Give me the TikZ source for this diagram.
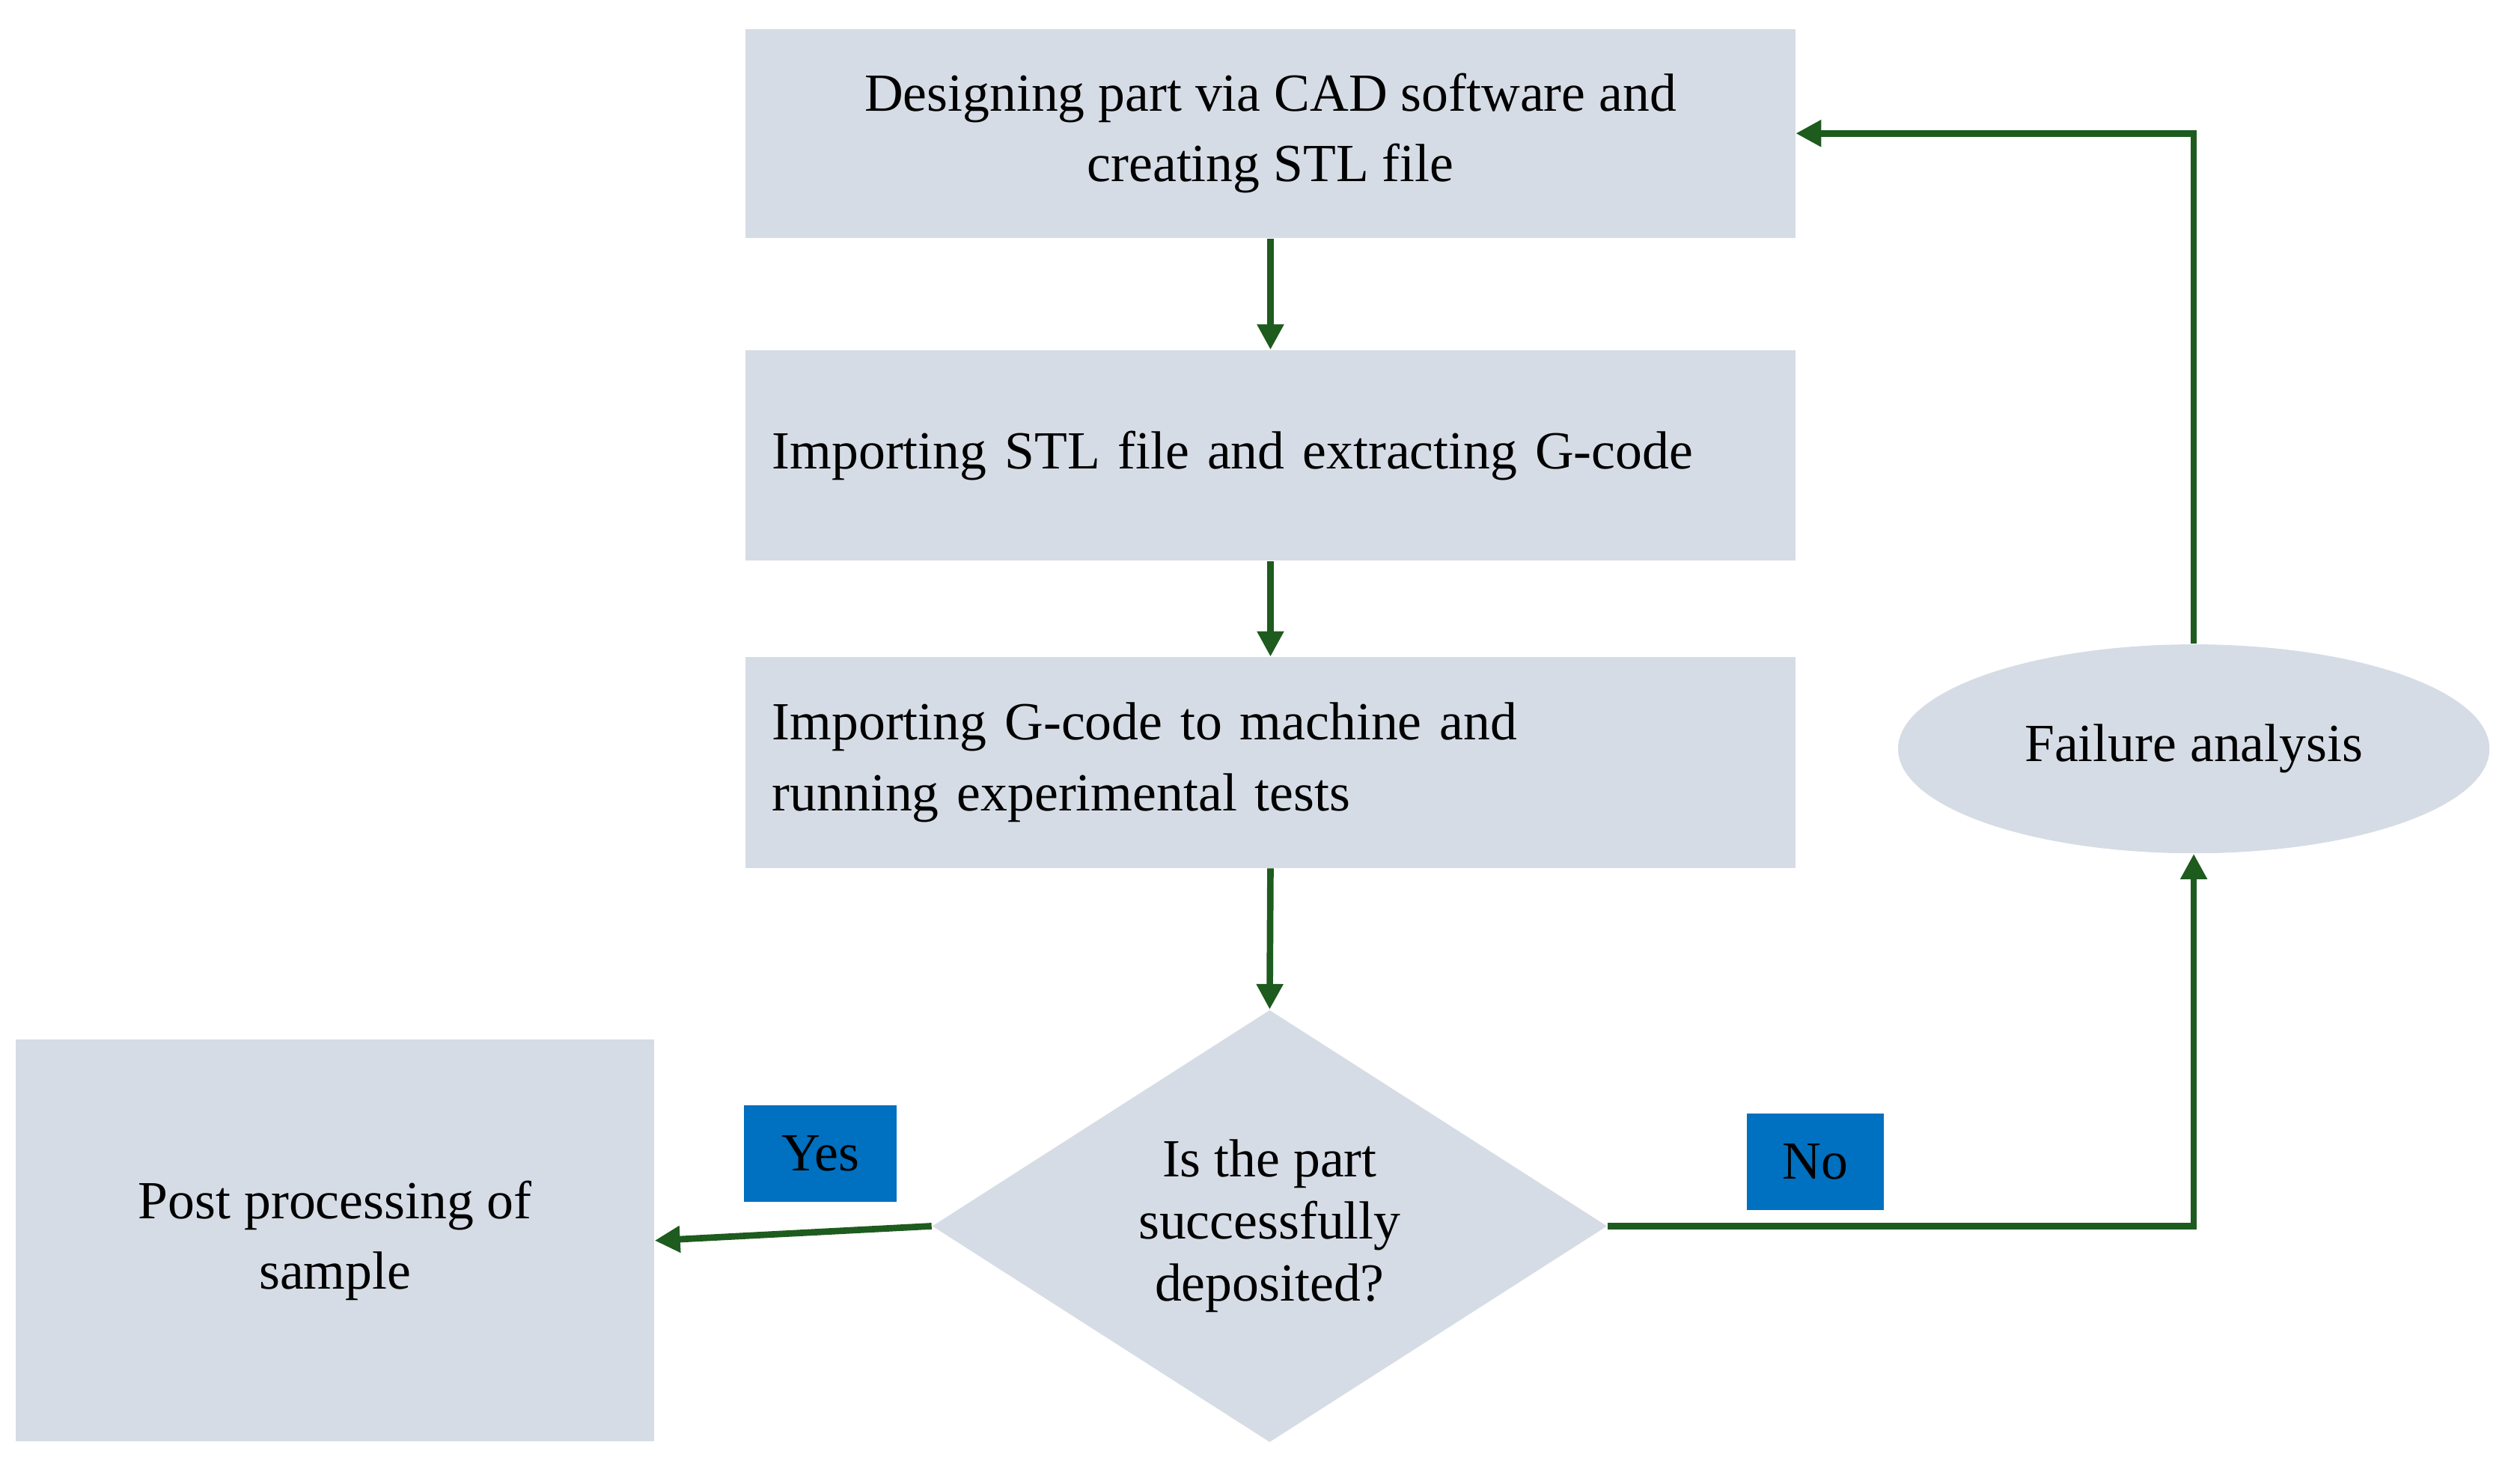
\documentclass[tikz,border=0pt]{standalone}
\usepackage{fontspec}
\setmainfont{Liberation Serif}
\usetikzlibrary{shapes.geometric,arrows.meta}
\definecolor{boxc}{HTML}{D6DCE5}
\definecolor{arr}{HTML}{1E5B1E}
\definecolor{lab}{HTML}{0070C0}
\begin{document}
\begin{tikzpicture}[x=0.02cm,y=-0.02cm,
  box/.style={fill=boxc,draw=none,inner sep=0pt,font=\fontsize{19}{25}\selectfont},
  lbl/.style={fill=lab,draw=none,inner sep=0pt,font=\fontsize{19}{25}\selectfont},
  con/.style={draw=arr,line width=2.3pt,-{Triangle[length=9pt,width=9pt]}}]
\useasboundingbox (0,0) rectangle (1568,910);
\node[box,minimum width=653*0.02cm,minimum height=130*0.02cm,align=center] (b1) at (790.5,83) {Designing part via CAD software and\\creating STL file};
\node[box,minimum width=653*0.02cm,minimum height=131*0.02cm,text width=620*0.02cm,align=left] (b2) at (790.5,283.5) {Importing STL file and extracting G-code};
\node[box,minimum width=653*0.02cm,minimum height=131*0.02cm,text width=620*0.02cm,align=left] (b3) at (790.5,474.5) {Importing G-code to machine and\\running experimental tests};
\node[box,diamond,minimum width=420*0.02cm,minimum height=269*0.02cm,aspect=1.56,align=center] (d) at (790,763) {};
\node[font=\fontsize{19}{22}\selectfont,align=center] at (790,763) {Is the part\\successfully\\deposited?};
\node[box,minimum width=397*0.02cm,minimum height=250*0.02cm,align=center] (p) at (208.5,772) {Post processing of\\sample};
\node[box,ellipse,minimum width=368*0.02cm,minimum height=130*0.02cm] (f) at (1365,466) {Failure analysis};
\node[lbl,minimum width=95*0.02cm,minimum height=60*0.02cm] (y) at (510.5,718) {Yes};
\node[lbl,minimum width=85*0.02cm,minimum height=60*0.02cm] (n) at (1129.5,723) {No};
\draw[con] (b1.south) -- (b2.north);
\draw[con] (b2.south) -- (b3.north);
\draw[con] (b3.south) -- (d.north);
\draw[con] (d.west) -- (p.east);
\draw[con] (d.east) -| (f.south);
\draw[con] (f.north) |- (b1.east);
\end{tikzpicture}
\end{document}
